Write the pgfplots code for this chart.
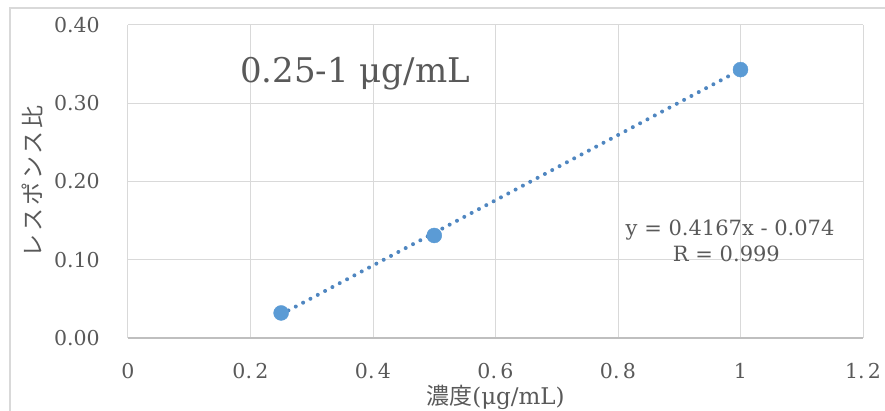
\documentclass[border=0pt]{standalone}
\usepackage{pgfplots}
\pgfplotsset{compat=1.18}
\usepackage{fontspec}
\setmainfont{DejaVu Serif}
\newfontfamily\cjk{Noto Sans CJK JP}
\definecolor{txt}{HTML}{595959}
\definecolor{gridc}{HTML}{D9D9D9}
\definecolor{axc}{HTML}{BFBFBF}
\definecolor{mk}{HTML}{5B9BD5}
\definecolor{tl}{HTML}{4F86C0}
\begin{document}
\begin{tikzpicture}[x=1pt,y=1pt]
\useasboundingbox (-128,-73) rectangle (757,338);
\draw[gridc, line width=1.2pt] (-118,-80) -- (-118,330) -- (800,330);
\begin{axis}[
  at={(0,0)}, anchor=south west,
  scale only axis, width=735pt, height=313pt,
  xmin=0, xmax=1.2, ymin=0, ymax=0.4,
  axis lines=left, axis line style={-},
  x axis line style={draw=axc, line width=1.2pt},
  y axis line style={draw=gridc, line width=1pt},
  grid=major, major grid style={draw=gridc, line width=1pt},
  major tick length=0pt,
  xtick={0,0.2,0.4,0.6,0.8,1,1.2},
  xticklabels={0,{0.\,2},{0.\,4},{0.\,6},{0.\,8},1,{1.\,2}},
  ytick={0,0.1,0.2,0.3,0.4},
  yticklabels={0.00,0.10,0.20,0.30,0.40},
  ticklabel style={font=\fontsize{20.5}{20.5}\selectfont, text=txt, inner sep=0pt},
  yticklabel style={anchor=east, xshift=-28pt},
  xticklabel style={anchor=north, yshift=-25pt},
  xlabel={{\cjk 濃度}(μg/mL)},
  ylabel={\cjk\addfontfeatures{LetterSpace=12} レスポンス比},
  xlabel style={font=\fontsize{23}{23}\selectfont, text=txt, inner sep=0pt,
    at={(axis description cs:0.5,-0.150)}, anchor=north},
  ylabel style={font=\fontsize{23}{23}\selectfont, text=txt, inner sep=0pt,
    at={(axis description cs:-0.1306,0.5)}, anchor=center},
  clip=false,
]
\addplot[tl, line width=4pt, line cap=round, dash pattern=on 0pt off 8.3pt]
  coordinates {(0.25,0.0302) (1,0.3427)};
\addplot[only marks, mark=*, mark size=7.5pt, mark options={fill=mk, draw=mk}]
  coordinates {(0.25,0.032) (0.5,0.131) (1,0.343)};
\node[anchor=base west, inner sep=0pt, text=txt, font=\fontsize{34}{34}\selectfont]
  at (axis cs:0.1829,0.327) {0.25-1 μg/mL};
\node[anchor=base, inner sep=0pt, text=txt, font=\fontsize{21}{21}\selectfont]
  at (axis cs:0.983,0.1316) {y = 0.4167x - 0.074};
\node[anchor=base, inner sep=0pt, text=txt, font=\fontsize{21}{21}\selectfont]
  at (axis cs:0.977,0.0984) {R = 0.999};
\end{axis}
\end{tikzpicture}
\end{document}
